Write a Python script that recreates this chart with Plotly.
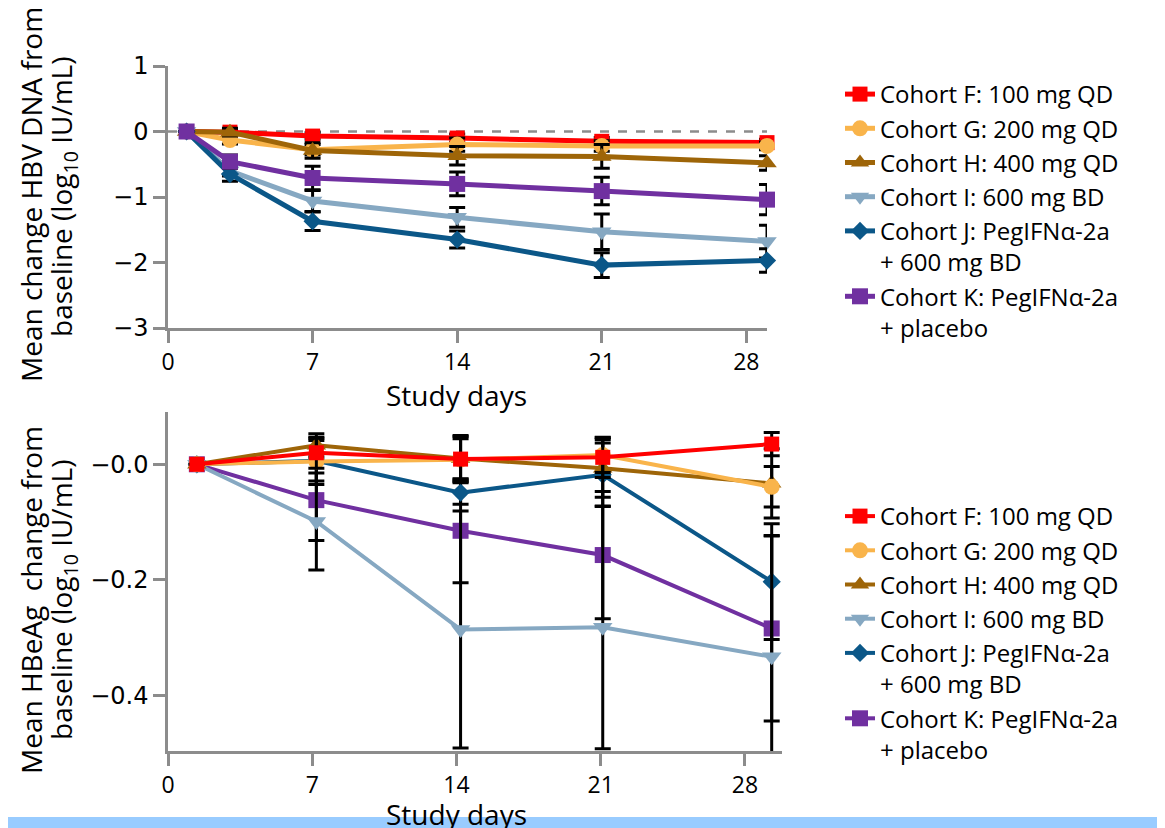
import plotly.graph_objects as go

W, H = 1165, 828
OFF = 8  # page body margin offset in the screenshot

# ---------------- data ----------------
cohorts = [
    "Cohort F: 100 mg QD",
    "Cohort G: 200 mg QD",
    "Cohort H: 400 mg QD",
    "Cohort I: 600 mg BD",
    "Cohort J: PegIFNα-2a<br>+ 600 mg BD",
    "Cohort K: PegIFNα-2a<br>+ placebo",
]
colors = ["#FF0000", "#F9B44B", "#9E6508", "#86A8C2", "#0B5788", "#7030A0"]
symbols = ["square", "circle", "triangle-up", "triangle-down", "diamond", "square"]
msizes = [15, 16, 17, 17, 14, 16]

# Top panel: HBV DNA
days_dna = [0.9, 3, 7, 14, 21, 29]
F_dna = [0, -0.01, -0.07, -0.10, -0.15, -0.17]
G_dna = [0, -0.13, -0.28, -0.20, -0.22, -0.22]
H_dna = [0, -0.01, -0.29, -0.37, -0.38, -0.48]
I_dna = [0, -0.60, -1.06, -1.31, -1.53, -1.68]
J_dna = [0, -0.65, -1.37, -1.65, -2.04, -1.97]
K_dna = [0, -0.46, -0.71, -0.80, -0.91, -1.04]
F_dna_err = [None, 0.04, 0.05, 0.06, 0.06, 0.05]
G_dna_err = [None, 0.06, 0.08, 0.10, 0.08, 0.06]
H_dna_err = [None, 0.06, 0.12, 0.14, 0.18, 0.11]
I_dna_err = [None, 0.08, 0.16, 0.15, 0.27, 0.25]
J_dna_err = [None, 0.11, 0.14, 0.13, 0.19, 0.18]
K_dna_err = [None, 0.10, 0.18, 0.18, 0.21, 0.23]

# Bottom panel: HBeAg
days_eag = [1.4, 7.2, 14.2, 21.1, 29.3]
F_eag = [0, 0.020, 0.009, 0.012, 0.035]
G_eag = [0, 0.005, 0.008, 0.016, -0.039]
H_eag = [0, 0.033, 0.010, -0.007, -0.033]
I_eag = [0, -0.099, -0.286, -0.282, -0.333]
J_eag = [0, 0.006, -0.049, -0.018, -0.203]
K_eag = [0, -0.062, -0.115, -0.157, -0.284]
F_eag_err = [None, 0.027, 0.035, 0.035, 0.020]
G_eag_err = [None, 0.040, 0.040, 0.030, 0.035]
H_eag_err = [None, 0.020, 0.040, 0.050, 0.060]
I_eag_err = [None, 0.084, 0.205, 0.210, 0.210]
J_eag_err = [None, 0.035, 0.020, 0.055, 0.100]
K_eag_err = [None, 0.070, 0.090, 0.110, 0.160]

x_ticks = [0, 7, 14, 21, 28]
dna_ticks = [1, 0, -1, -2, -3]
eag_ticks = [0, -0.2, -0.4]
eag_ticktext = ["\u22120.0", "\u22120.2", "\u22120.4"]

dna_series = [F_dna, G_dna, H_dna, I_dna, J_dna, K_dna]
dna_errs = [F_dna_err, G_dna_err, H_dna_err, I_dna_err, J_dna_err, K_dna_err]
eag_series = [F_eag, G_eag, H_eag, I_eag, J_eag, K_eag]
eag_errs = [F_eag_err, G_eag_err, H_eag_err, I_eag_err, J_eag_err, K_eag_err]

TEXT_FONT = "Open Sans"
TICK_FONT = "DejaVu Sans"
AXIS_GREY = "#8C8C8C"


def px(xp):
    return (xp - OFF) / W


def py(yp):
    return 1 - (yp - OFF) / H


fig = go.Figure()

for i in range(6):
    fig.add_trace(go.Scatter(
        x=days_dna, y=dna_series[i], name=cohorts[i], mode="lines+markers",
        line=dict(color=colors[i], width=5),
        marker=dict(symbol=symbols[i], size=msizes[i], color=colors[i], line=dict(width=0)),
        error_y=dict(type="data", array=dna_errs[i], color="black", thickness=3, width=8),
        xaxis="x", yaxis="y", legend="legend", legendrank=i + 1, cliponaxis=False,
    ))

order_bottom = [5, 4, 3, 2, 1, 0]
for i in order_bottom:
    fig.add_trace(go.Scatter(
        x=days_eag, y=eag_series[i], name=cohorts[i], mode="lines+markers",
        line=dict(color=colors[i], width=4),
        marker=dict(symbol=symbols[i], size=msizes[i], color=colors[i], line=dict(width=0)),
        error_y=dict(type="data", array=eag_errs[i], color="black", thickness=3, width=8),
        xaxis="x2", yaxis="y2", legend="legend2", legendrank=i + 1, cliponaxis=False,
    ))

axis_common = dict(showline=True, linecolor=AXIS_GREY, linewidth=2.5, ticks="outside",
                   ticklen=12, tickwidth=2.5, tickcolor=AXIS_GREY, showgrid=False,
                   zeroline=False, mirror=False, automargin=False)

legend_common = dict(xanchor="left", yanchor="top", bgcolor="rgba(0,0,0,0)",
                     font=dict(family=TEXT_FONT, size=24, color="black"),
                     tracegroupgap=0, itemwidth=30, valign="top", traceorder="normal")

xtick_font = dict(family=TEXT_FONT, size=23, color="black")
ytick_font = dict(family=TICK_FONT, size=24, color="black")

fig.update_layout(
    template="none",
    width=W, height=H, autosize=False,
    margin=dict(l=0, r=0, t=0, b=0, pad=0, autoexpand=False),
    paper_bgcolor="white", plot_bgcolor="white",
    showlegend=True,
    xaxis=dict(domain=[px(168), px(767)], range=[0, 29], anchor="y", tickvals=x_ticks,
               tickfont=xtick_font, **axis_common),
    yaxis=dict(domain=[py(328), py(66)], range=[-3, 1], anchor="x", tickvals=dna_ticks,
               tickfont=ytick_font, **axis_common),
    xaxis2=dict(domain=[px(168), px(782)], range=[0, 29.8], anchor="y2", tickvals=x_ticks,
                tickfont=xtick_font, **axis_common),
    yaxis2=dict(domain=[py(751), py(411.7)], range=[-0.496, 0.091], anchor="x2",
                tickvals=eag_ticks, ticktext=eag_ticktext, tickfont=ytick_font, **axis_common),
    legend=dict(x=px(840), y=py(72), **legend_common),
    legend2=dict(x=px(840), y=py(494), **legend_common),
)

# dashed zero reference line in top panel
fig.add_shape(type="line", xref="x", yref="y", x0=0, x1=29.5, y0=0, y1=0,
              line=dict(color=AXIS_GREY, width=2.5, dash="dash"), layer="below")

title_font = dict(family=TEXT_FONT, size=28, color="black")
titles = [
    ("Mean change HBV DNA from", 31, 195),
    ("baseline (log<sub>10</sub> IU/mL)", 63, 197),
    ("Mean HBeAg\u00a0 change from", 31, 600),
    ("baseline (log<sub>10</sub> IU/mL)", 63, 600),
]
for txt, xx, yy in titles:
    fig.add_annotation(text=txt, xref="paper", yref="paper", x=px(xx), y=py(yy), textangle=-90,
                       showarrow=False, font=title_font, xanchor="center", yanchor="middle")

fig.add_annotation(text="Study days", xref="paper", yref="paper", x=px(456), y=py(395),
                   showarrow=False, font=title_font, xanchor="center", yanchor="middle")
fig.add_annotation(text="Study days", xref="paper", yref="paper", x=px(456), y=py(814),
                   showarrow=False, font=title_font, xanchor="center", yanchor="middle")

# light blue band at the bottom edge
fig.add_shape(type="rect", xref="paper", yref="paper", x0=-0.02, x1=1.02, y0=-0.05, y1=py(817),
              fillcolor="#99CCFF", line=dict(width=0), layer="above")

fig.write_html("out.html")
